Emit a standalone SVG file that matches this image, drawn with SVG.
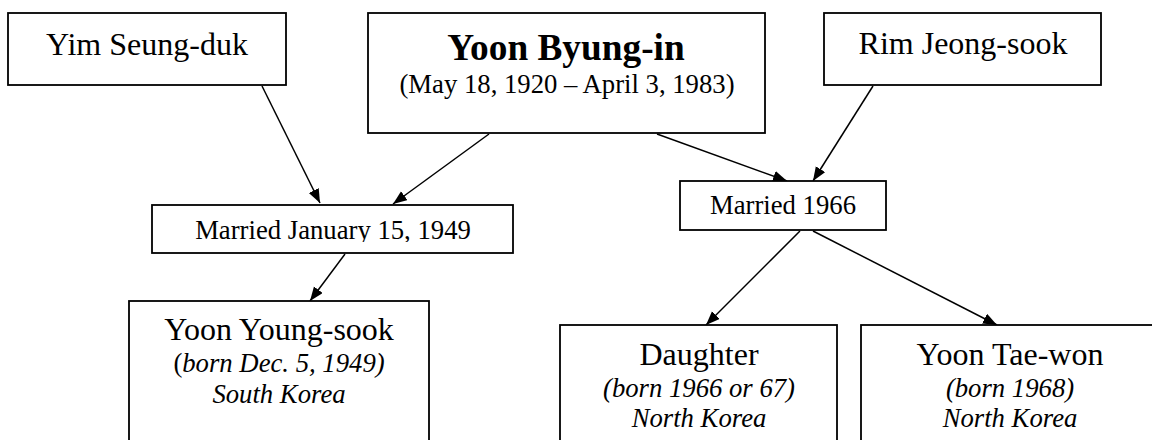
<svg xmlns="http://www.w3.org/2000/svg" width="1152" height="440" viewBox="0 0 1152 440">
<style>
.box{fill:#fff;stroke:#000;stroke-width:1.8}
text{font-family:"Liberation Serif","Times New Roman",serif;fill:#000;text-anchor:middle}
.name{font-size:32px}
.title{font-size:37.3px;font-weight:bold}
.sub{font-size:26.7px}
.it{font-size:26.7px;font-style:italic}
.edge{stroke:#000;stroke-width:1.5;fill:none;marker-end:url(#arr)}
</style>
<defs>
<marker id="arr" markerUnits="userSpaceOnUse" markerWidth="16" markerHeight="12" refX="14" refY="5.5" orient="auto">
<path d="M0,0 L14,5.5 L0,11 z" fill="#000"/>
</marker>
<clipPath id="clipMJ"><rect x="152" y="205" width="361" height="37"/></clipPath>
</defs>
<rect width="1152" height="440" fill="#fff"/>
<g id="connectors">
<line class="edge" x1="262" y1="86" x2="320" y2="203"/>
<line class="edge" x1="489" y1="134" x2="393" y2="204"/>
<line class="edge" x1="657" y1="134" x2="787" y2="181"/>
<line class="edge" x1="873" y1="86" x2="813" y2="181"/>
<line class="edge" x1="345" y1="254" x2="310" y2="301"/>
<line class="edge" x1="800" y1="231" x2="706" y2="325"/>
<line class="edge" x1="813" y1="231" x2="997" y2="325"/>
</g>
<g id="yim">
<rect class="box" x="8" y="13" width="278" height="72"/>
<text class="name" x="147" y="55">Yim Seung-duk</text>
</g>
<g id="yoon-byung-in">
<rect class="box" x="368" y="13" width="397" height="120"/>
<text class="title" x="566" y="60">Yoon Byung-in</text>
<text class="sub" x="567" y="93">(May 18, 1920 – April 3, 1983)</text>
</g>
<g id="rim">
<rect class="box" x="824" y="13" width="277" height="72"/>
<text class="name" x="963" y="54">Rim Jeong-sook</text>
</g>
<g id="married-1949">
<rect class="box" x="152" y="205" width="361" height="48"/>
<text class="sub" x="333" y="239" clip-path="url(#clipMJ)">Married January 15, 1949</text>
</g>
<g id="married-1966">
<rect class="box" x="680" y="181" width="206" height="49"/>
<text class="sub" x="783" y="214">Married 1966</text>
</g>
<g id="yoon-young-sook">
<rect class="box" x="129" y="301" width="300" height="160"/>
<text class="name" x="279" y="340">Yoon Young-sook</text>
<text class="it" x="279" y="372"><tspan font-style="normal">(</tspan>born Dec. 5, 1949)</text>
<text class="it" x="279" y="403">South Korea</text>
</g>
<g id="daughter">
<rect class="box" x="560" y="325" width="277" height="140"/>
<text class="name" x="699" y="365">Daughter</text>
<text class="it" x="699" y="397">(born 1966 or 67)</text>
<text class="it" x="699" y="427">North Korea</text>
</g>
<g id="yoon-tae-won">
<rect class="box" x="861" y="325" width="298" height="140"/>
<text class="name" x="1010" y="365">Yoon Tae-won</text>
<text class="it" x="1010" y="397">(born 1968)</text>
<text class="it" x="1010" y="427">North Korea</text>
</g>
</svg>
